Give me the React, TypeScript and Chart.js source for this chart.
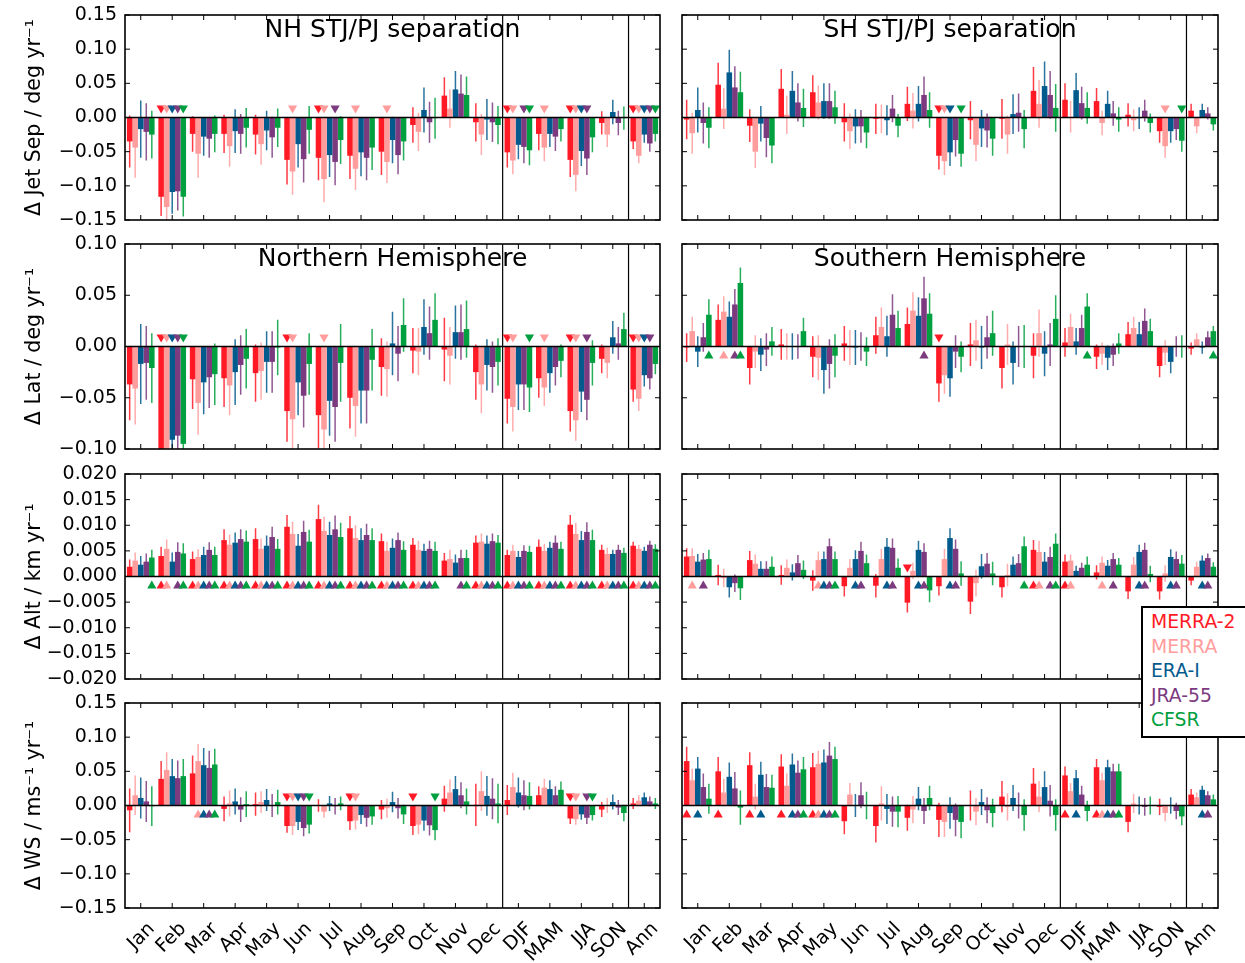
import React, { useEffect, useRef } from "react";
import { Chart, registerables } from "chart.js";

Chart.register(...registerables);

const CATEGORIES = ["Jan", "Feb", "Mar", "Apr", "May", "Jun", "Jul", "Aug", "Sep", "Oct", "Nov", "Dec", "DJF", "MAM", "JJA", "SON", "Ann"];
const SERIES = ["MERRA-2", "MERRA", "ERA-I", "JRA-55", "CFSR"];
const COLORS = ["#ff1a26", "#ff9d9d", "#035b8d", "#7c3a7f", "#00a040"];

const SEP_TICKS = [-0.15, -0.1, -0.05, 0, 0.05, 0.1, 0.15];
const LAT_TICKS = [-0.1, -0.05, 0, 0.05, 0.1];
const ALT_TICKS = [-0.02, -0.015, -0.01, -0.005, 0, 0.005, 0.01, 0.015, 0.02];
const WS_TICKS = [-0.15, -0.1, -0.05, 0, 0.05, 0.1, 0.15];

// ---------- NH STJ/PJ separation ----------
const nhSepVals = [
  [-0.035, -0.116, -0.024, -0.024, -0.025, -0.062, -0.059, -0.056, -0.050, -0.011, 0.032, -0.007, -0.051, -0.024, -0.062, -0.008, -0.035],
  [-0.044, -0.131, -0.053, -0.042, -0.039, -0.079, -0.090, -0.075, -0.065, -0.021, 0.013, -0.025, -0.063, -0.044, -0.084, -0.025, -0.056],
  [-0.017, -0.109, -0.028, -0.020, -0.019, -0.039, -0.055, -0.051, -0.033, 0.011, 0.041, -0.003, -0.040, -0.024, -0.049, 0.008, -0.025],
  [-0.021, -0.108, -0.031, -0.024, -0.029, -0.061, -0.065, -0.059, -0.055, -0.007, 0.035, -0.007, -0.043, -0.028, -0.060, -0.008, -0.038],
  [-0.025, -0.116, -0.024, -0.015, -0.015, -0.018, -0.033, -0.044, -0.035, -0.001, 0.033, -0.011, -0.048, -0.017, -0.029, -0.001, -0.024],
];
const nhSepErrs = [
  [0.038, 0.028, 0.026, 0.028, 0.029, 0.036, 0.033, 0.034, 0.034, 0.026, 0.027, 0.028, 0.022, 0.024, 0.025, 0.017, 0.011],
  [0.044, 0.030, 0.035, 0.030, 0.030, 0.034, 0.034, 0.031, 0.031, 0.028, 0.028, 0.030, 0.020, 0.020, 0.024, 0.018, 0.011],
  [0.042, 0.032, 0.028, 0.032, 0.029, 0.034, 0.032, 0.035, 0.034, 0.033, 0.027, 0.030, 0.021, 0.019, 0.022, 0.018, 0.012],
  [0.042, 0.028, 0.028, 0.029, 0.030, 0.034, 0.034, 0.033, 0.028, 0.030, 0.028, 0.029, 0.024, 0.021, 0.024, 0.018, 0.012],
  [0.035, 0.029, 0.027, 0.029, 0.028, 0.035, 0.035, 0.033, 0.028, 0.030, 0.027, 0.028, 0.022, 0.018, 0.022, 0.017, 0.011],
];
const nhSepSig = [
  [1, 6, 12, 14, 16],
  [1, 5, 6, 7, 8, 12, 13, 14, 16],
  [1, 14, 16],
  [1, 6, 12, 14, 16],
  [1, 12, 16],
];

// ---------- SH STJ/PJ separation ----------
const shSepVals = [
  [-0.003, 0.048, -0.012, 0.042, 0.037, -0.007, -0.002, 0.020, -0.056, -0.004, -0.002, 0.039, 0.026, 0.024, 0.004, -0.020, 0.010],
  [-0.023, 0.013, -0.050, 0.004, 0.022, -0.020, -0.002, 0.010, -0.064, -0.040, -0.025, 0.020, 0.001, -0.008, -0.004, -0.042, -0.013],
  [0.011, 0.066, -0.009, 0.039, 0.024, -0.013, -0.004, 0.020, -0.051, -0.016, 0.005, 0.046, 0.040, 0.020, -0.001, -0.020, 0.011],
  [-0.008, 0.044, -0.030, 0.022, 0.024, -0.013, 0.013, 0.033, -0.033, -0.019, 0.007, 0.033, 0.021, 0.006, 0.010, -0.017, 0.006],
  [-0.015, 0.037, -0.041, 0.014, 0.015, -0.022, -0.012, 0.011, -0.053, -0.031, -0.017, 0.014, 0.014, -0.003, -0.008, -0.034, -0.010],
];
const shSepErrs = [
  [0.029, 0.032, 0.024, 0.029, 0.025, 0.028, 0.022, 0.025, 0.020, 0.028, 0.029, 0.035, 0.024, 0.019, 0.017, 0.017, 0.010],
  [0.030, 0.030, 0.024, 0.028, 0.025, 0.026, 0.021, 0.026, 0.020, 0.024, 0.028, 0.035, 0.023, 0.018, 0.016, 0.017, 0.010],
  [0.033, 0.033, 0.026, 0.029, 0.026, 0.025, 0.022, 0.026, 0.020, 0.027, 0.029, 0.036, 0.025, 0.019, 0.016, 0.017, 0.009],
  [0.030, 0.031, 0.028, 0.028, 0.026, 0.024, 0.020, 0.027, 0.024, 0.025, 0.028, 0.035, 0.024, 0.018, 0.016, 0.016, 0.009],
  [0.030, 0.030, 0.026, 0.028, 0.024, 0.023, 0.017, 0.026, 0.019, 0.025, 0.028, 0.035, 0.023, 0.018, 0.014, 0.016, 0.009],
];
const shSepSig = [[8], [8, 15], [8], [], [8, 15]];

// ---------- Northern Hemisphere latitude ----------
const nhLatVals = [
  [-0.037, -0.108, -0.032, -0.031, -0.026, -0.063, -0.067, -0.050, -0.020, -0.004, -0.003, -0.025, -0.051, -0.031, -0.063, -0.012, -0.042],
  [-0.041, -0.112, -0.055, -0.038, -0.024, -0.071, -0.081, -0.058, -0.022, -0.005, -0.009, -0.037, -0.059, -0.040, -0.072, -0.016, -0.051],
  [-0.017, -0.091, -0.035, -0.025, -0.015, -0.035, -0.053, -0.043, 0.003, 0.019, 0.014, -0.018, -0.037, -0.026, -0.044, 0.009, -0.028],
  [-0.016, -0.087, -0.030, -0.018, -0.015, -0.048, -0.059, -0.043, -0.007, 0.013, 0.014, -0.020, -0.037, -0.020, -0.052, 0.003, -0.031],
  [-0.021, -0.095, -0.027, -0.012, -0.001, -0.017, -0.016, -0.013, 0.021, 0.026, 0.017, -0.015, -0.040, -0.014, -0.016, 0.017, -0.017],
];
const nhLatErrs = [
  [0.035, 0.035, 0.029, 0.028, 0.028, 0.030, 0.032, 0.030, 0.028, 0.022, 0.031, 0.027, 0.024, 0.019, 0.020, 0.014, 0.012],
  [0.035, 0.035, 0.031, 0.029, 0.028, 0.030, 0.032, 0.030, 0.027, 0.023, 0.028, 0.028, 0.024, 0.018, 0.020, 0.015, 0.012],
  [0.039, 0.035, 0.031, 0.032, 0.030, 0.032, 0.034, 0.032, 0.031, 0.027, 0.026, 0.025, 0.025, 0.019, 0.020, 0.016, 0.011],
  [0.036, 0.035, 0.030, 0.029, 0.030, 0.031, 0.034, 0.032, 0.027, 0.026, 0.027, 0.025, 0.025, 0.018, 0.020, 0.016, 0.011],
  [0.034, 0.035, 0.030, 0.029, 0.027, 0.030, 0.038, 0.030, 0.026, 0.026, 0.028, 0.023, 0.024, 0.016, 0.022, 0.016, 0.010],
];
const nhLatSig = [
  [1, 5, 12, 14, 16],
  [1, 5, 6, 12, 13, 14, 16],
  [1, 16],
  [1, 14, 16],
  [1, 12],
];

// ---------- Southern Hemisphere latitude ----------
const shLatVals = [
  [-0.001, 0.026, -0.021, 0.002, -0.010, 0.003, 0.011, 0.022, -0.036, 0.002, -0.021, -0.009, 0.004, -0.010, 0.012, -0.019, -0.002],
  [0.015, 0.034, -0.005, 0.000, -0.011, -0.001, 0.019, 0.035, -0.028, 0.006, 0.002, 0.013, 0.019, -0.007, 0.018, -0.006, 0.007],
  [-0.005, 0.029, -0.008, 0.000, -0.023, -0.001, 0.010, 0.030, -0.031, -0.001, -0.016, -0.007, 0.005, -0.011, 0.012, -0.015, -0.001],
  [0.009, 0.041, -0.003, 0.000, -0.017, 0.000, 0.031, 0.047, -0.005, 0.009, 0.000, 0.002, 0.018, -0.008, 0.025, 0.000, 0.009],
  [0.031, 0.062, 0.005, 0.015, -0.009, -0.005, 0.018, 0.032, -0.010, 0.013, 0.000, 0.027, 0.039, 0.003, 0.015, 0.000, 0.015],
];
const shLatErrs = [
  [0.014, 0.015, 0.016, 0.015, 0.020, 0.017, 0.018, 0.016, 0.018, 0.021, 0.020, 0.022, 0.014, 0.012, 0.012, 0.011, 0.006],
  [0.014, 0.015, 0.016, 0.013, 0.022, 0.017, 0.019, 0.018, 0.018, 0.020, 0.020, 0.023, 0.013, 0.011, 0.011, 0.012, 0.006],
  [0.015, 0.015, 0.016, 0.013, 0.023, 0.017, 0.020, 0.018, 0.018, 0.021, 0.021, 0.022, 0.013, 0.012, 0.012, 0.011, 0.006],
  [0.014, 0.015, 0.016, 0.012, 0.024, 0.014, 0.020, 0.021, 0.016, 0.021, 0.020, 0.021, 0.013, 0.011, 0.012, 0.010, 0.006],
  [0.015, 0.015, 0.014, 0.013, 0.021, 0.014, 0.017, 0.020, 0.015, 0.022, 0.021, 0.023, 0.013, 0.010, 0.012, 0.011, 0.005],
];
const shLatSig = [[8], [1], [], [1, 7], [0, 1, 12, 16]];

// ---------- NH altitude ----------
const nhAltVals = [
  [0.0019, 0.0040, 0.0034, 0.0071, 0.0073, 0.0097, 0.0112, 0.0094, 0.0069, 0.0062, 0.0031, 0.0066, 0.0042, 0.0058, 0.0101, 0.0052, 0.0060],
  [0.0031, 0.0054, 0.0038, 0.0062, 0.0054, 0.0083, 0.0089, 0.0075, 0.0050, 0.0052, 0.0034, 0.0068, 0.0050, 0.0050, 0.0083, 0.0044, 0.0054],
  [0.0023, 0.0029, 0.0042, 0.0066, 0.0060, 0.0060, 0.0081, 0.0071, 0.0056, 0.0050, 0.0027, 0.0064, 0.0038, 0.0056, 0.0071, 0.0044, 0.0050],
  [0.0029, 0.0048, 0.0052, 0.0073, 0.0077, 0.0087, 0.0092, 0.0081, 0.0071, 0.0054, 0.0036, 0.0069, 0.0050, 0.0066, 0.0087, 0.0052, 0.0062],
  [0.0037, 0.0045, 0.0042, 0.0068, 0.0054, 0.0068, 0.0077, 0.0071, 0.0052, 0.0050, 0.0036, 0.0066, 0.0048, 0.0054, 0.0071, 0.0046, 0.0054],
];
const nhAltErrs = [
  [0.0014, 0.0018, 0.0015, 0.0021, 0.0021, 0.0023, 0.0028, 0.0024, 0.0015, 0.0013, 0.0015, 0.0014, 0.0010, 0.0014, 0.0019, 0.0010, 0.0008],
  [0.0016, 0.0018, 0.0015, 0.0020, 0.0020, 0.0024, 0.0028, 0.0025, 0.0018, 0.0018, 0.0018, 0.0016, 0.0012, 0.0014, 0.0022, 0.0012, 0.0008],
  [0.0017, 0.0018, 0.0016, 0.0020, 0.0020, 0.0023, 0.0026, 0.0023, 0.0018, 0.0014, 0.0016, 0.0016, 0.0012, 0.0012, 0.0018, 0.0008, 0.0008],
  [0.0016, 0.0019, 0.0015, 0.0019, 0.0020, 0.0022, 0.0027, 0.0022, 0.0015, 0.0016, 0.0016, 0.0015, 0.0011, 0.0014, 0.0019, 0.0010, 0.0008],
  [0.0015, 0.0020, 0.0016, 0.0022, 0.0019, 0.0023, 0.0028, 0.0023, 0.0017, 0.0018, 0.0016, 0.0015, 0.0012, 0.0014, 0.0020, 0.0010, 0.0009],
];
const nhAltSig = [
  [1, 2, 3, 4, 5, 6, 7, 8, 9, 11, 12, 13, 14, 15, 16],
  [1, 2, 3, 4, 5, 6, 7, 8, 9, 11, 12, 13, 14, 15, 16],
  [2, 3, 4, 5, 6, 7, 8, 9, 11, 12, 13, 14, 15, 16],
  [1, 2, 3, 4, 5, 6, 7, 8, 9, 10, 11, 12, 13, 14, 15, 16],
  [0, 1, 2, 3, 4, 5, 6, 7, 8, 9, 10, 11, 12, 13, 14, 15, 16],
];

// ---------- SH altitude ----------
const shAltVals = [
  [0.0039, 0.0003, 0.0032, 0.0003, -0.0008, -0.0019, -0.0018, -0.0051, -0.0019, -0.0049, -0.0021, 0.0052, 0.0029, 0.0008, -0.0029, -0.0029, -0.0008],
  [0.0040, -0.0003, 0.0025, 0.0017, 0.0032, 0.0017, 0.0034, 0.0011, 0.0034, -0.0013, 0.0003, 0.0048, 0.0031, 0.0027, 0.0023, 0.0006, 0.0019],
  [0.0029, -0.0021, 0.0015, 0.0008, 0.0034, 0.0034, 0.0058, 0.0052, 0.0075, 0.0020, 0.0023, 0.0029, 0.0011, 0.0021, 0.0048, 0.0038, 0.0031],
  [0.0033, -0.0013, 0.0015, 0.0026, 0.0059, 0.0050, 0.0056, 0.0048, 0.0054, 0.0025, 0.0026, 0.0038, 0.0017, 0.0034, 0.0052, 0.0034, 0.0036],
  [0.0034, -0.0023, 0.0019, 0.0013, 0.0034, 0.0026, 0.0017, -0.0027, 0.0006, 0.0006, 0.0059, 0.0064, 0.0023, 0.0023, 0.0005, 0.0025, 0.0019],
];
const shAltErrs = [
  [0.0016, 0.0020, 0.0018, 0.0019, 0.0020, 0.0020, 0.0023, 0.0019, 0.0018, 0.0024, 0.0020, 0.0019, 0.0014, 0.0014, 0.0015, 0.0016, 0.0009],
  [0.0015, 0.0018, 0.0018, 0.0016, 0.0017, 0.0017, 0.0020, 0.0016, 0.0020, 0.0026, 0.0022, 0.0022, 0.0012, 0.0012, 0.0015, 0.0016, 0.0010],
  [0.0015, 0.0020, 0.0015, 0.0016, 0.0015, 0.0017, 0.0017, 0.0018, 0.0019, 0.0024, 0.0016, 0.0019, 0.0010, 0.0011, 0.0014, 0.0015, 0.0010],
  [0.0013, 0.0017, 0.0015, 0.0016, 0.0015, 0.0018, 0.0018, 0.0017, 0.0018, 0.0021, 0.0018, 0.0020, 0.0010, 0.0012, 0.0014, 0.0015, 0.0009],
  [0.0018, 0.0023, 0.0020, 0.0018, 0.0015, 0.0017, 0.0018, 0.0023, 0.0024, 0.0023, 0.0019, 0.0020, 0.0016, 0.0013, 0.0016, 0.0017, 0.0009],
];
const shAltSig = [
  [7, 11, 12],
  [0, 4, 11, 12, 13],
  [4, 5, 6, 7, 8, 14, 15, 16],
  [0, 4, 5, 6, 7, 8, 11, 13, 14, 15, 16],
  [4, 10, 11],
];

// ---------- NH wind speed ----------
const nhWsVals = [
  [-0.007, 0.039, 0.047, -0.005, 0.002, -0.030, 0.000, -0.023, -0.006, -0.030, 0.010, 0.001, 0.008, 0.015, -0.019, -0.006, 0.003],
  [0.015, 0.052, 0.065, 0.003, 0.005, -0.030, -0.009, -0.022, -0.004, -0.028, 0.019, 0.021, 0.027, 0.026, -0.020, 0.000, 0.007],
  [0.011, 0.043, 0.059, 0.006, 0.008, -0.024, 0.003, -0.014, 0.005, -0.022, 0.024, 0.014, 0.019, 0.024, -0.013, 0.005, 0.012],
  [0.006, 0.040, 0.055, -0.006, 0.000, -0.033, -0.001, -0.018, -0.004, -0.029, 0.015, 0.010, 0.015, 0.015, -0.018, -0.003, 0.006],
  [-0.001, 0.043, 0.060, 0.002, 0.005, -0.028, 0.003, -0.016, -0.013, -0.036, 0.006, 0.003, 0.014, 0.023, -0.014, -0.011, 0.003],
];
const nhWsErrs = [
  [0.032, 0.026, 0.026, 0.018, 0.017, 0.010, 0.009, 0.013, 0.014, 0.013, 0.019, 0.031, 0.022, 0.013, 0.008, 0.011, 0.008],
  [0.029, 0.026, 0.025, 0.019, 0.016, 0.013, 0.009, 0.013, 0.014, 0.014, 0.019, 0.029, 0.021, 0.013, 0.008, 0.011, 0.008],
  [0.030, 0.025, 0.025, 0.019, 0.016, 0.012, 0.011, 0.013, 0.015, 0.015, 0.019, 0.029, 0.022, 0.013, 0.008, 0.011, 0.007],
  [0.030, 0.026, 0.025, 0.018, 0.017, 0.012, 0.012, 0.013, 0.015, 0.015, 0.019, 0.030, 0.022, 0.013, 0.009, 0.011, 0.007],
  [0.029, 0.025, 0.023, 0.019, 0.018, 0.013, 0.010, 0.012, 0.014, 0.015, 0.019, 0.029, 0.020, 0.012, 0.008, 0.012, 0.008],
];
const nhWsSig = [[5, 7, 9, 14], [2, 5, 7, 14], [2, 5], [2, 5, 14], [2, 5, 9, 14]];

// ---------- SH wind speed ----------
const shWsVals = [
  [0.065, 0.050, 0.059, 0.057, 0.056, -0.023, -0.030, -0.018, -0.021, 0.000, 0.013, 0.032, 0.044, 0.056, -0.024, -0.002, 0.016],
  [0.037, 0.019, 0.013, 0.029, 0.061, 0.016, 0.003, -0.006, -0.024, -0.009, -0.002, 0.013, 0.021, 0.037, 0.003, -0.011, 0.012],
  [0.054, 0.042, 0.045, 0.060, 0.063, 0.000, -0.005, 0.010, -0.011, 0.005, 0.011, 0.027, 0.040, 0.056, 0.000, 0.000, 0.023],
  [0.027, 0.025, 0.027, 0.048, 0.073, 0.015, -0.009, -0.008, -0.021, -0.007, 0.000, 0.007, 0.016, 0.050, -0.002, -0.008, 0.015],
  [0.010, -0.003, 0.026, 0.053, 0.068, 0.000, -0.009, 0.011, -0.024, -0.011, -0.014, -0.014, -0.008, 0.050, 0.000, -0.016, 0.009],
];
const shWsErrs = [
  [0.021, 0.021, 0.019, 0.018, 0.021, 0.019, 0.024, 0.019, 0.025, 0.022, 0.023, 0.023, 0.013, 0.012, 0.015, 0.012, 0.008],
  [0.017, 0.020, 0.019, 0.018, 0.019, 0.017, 0.025, 0.020, 0.022, 0.020, 0.020, 0.023, 0.012, 0.011, 0.014, 0.012, 0.007],
  [0.017, 0.021, 0.019, 0.016, 0.019, 0.017, 0.022, 0.017, 0.023, 0.019, 0.019, 0.023, 0.012, 0.011, 0.013, 0.012, 0.006],
  [0.020, 0.024, 0.019, 0.018, 0.020, 0.019, 0.022, 0.019, 0.024, 0.019, 0.019, 0.023, 0.013, 0.011, 0.013, 0.012, 0.006],
  [0.022, 0.025, 0.019, 0.018, 0.018, 0.020, 0.023, 0.018, 0.024, 0.021, 0.023, 0.023, 0.015, 0.011, 0.013, 0.013, 0.007],
];
const shWsSig = [[0, 1, 2, 3, 4, 12, 13], [4, 13], [0, 2, 3, 4, 12, 13, 16], [3, 4, 13, 16], [3, 4, 13]];

const FONT = "'DejaVu Sans', 'Liberation Sans', sans-serif";
const ROW_TOPS = [15, 244, 474, 703];
const PLOT_H = 205;
const COL_LEFTS = [125, 682];
const PLOT_W = [535, 536];

type PanelDef = {
  vals: number[][];
  errs: number[][];
  sigs: number[][];
  ticks: number[];
  dec: number;
  title?: string;
  yTitle?: string;
  row: number;
  col: number;
};

const PANELS: PanelDef[] = [
  { vals: nhSepVals, errs: nhSepErrs, sigs: nhSepSig, ticks: SEP_TICKS, dec: 2, title: "NH STJ/PJ separation", yTitle: "\u0394 Jet Sep / deg yr\u207B\u00B9", row: 0, col: 0 },
  { vals: shSepVals, errs: shSepErrs, sigs: shSepSig, ticks: SEP_TICKS, dec: 2, title: "SH STJ/PJ separation", row: 0, col: 1 },
  { vals: nhLatVals, errs: nhLatErrs, sigs: nhLatSig, ticks: LAT_TICKS, dec: 2, title: "Northern Hemisphere", yTitle: "\u0394 Lat / deg yr\u207B\u00B9", row: 1, col: 0 },
  { vals: shLatVals, errs: shLatErrs, sigs: shLatSig, ticks: LAT_TICKS, dec: 2, title: "Southern Hemisphere", row: 1, col: 1 },
  { vals: nhAltVals, errs: nhAltErrs, sigs: nhAltSig, ticks: ALT_TICKS, dec: 3, yTitle: "\u0394 Alt / km yr\u207B\u00B9", row: 2, col: 0 },
  { vals: shAltVals, errs: shAltErrs, sigs: shAltSig, ticks: ALT_TICKS, dec: 3, row: 2, col: 1 },
  { vals: nhWsVals, errs: nhWsErrs, sigs: nhWsSig, ticks: WS_TICKS, dec: 2, yTitle: "\u0394 WS / ms\u207B\u00B9 yr\u207B\u00B9", row: 3, col: 0 },
  { vals: shWsVals, errs: shWsErrs, sigs: shWsSig, ticks: WS_TICKS, dec: 2, row: 3, col: 1 },
];

function fmt(v: number, dec: number): string {
  const s = Math.abs(v).toFixed(dec);
  return v < -1e-12 ? "\u2212" + s : s;
}

function Panel({ p }: { p: PanelDef }) {
  const ref = useRef<HTMLCanvasElement>(null);
  const isLeft = p.col === 0;
  const isBottom = p.row === 3;
  const cLeft = isLeft ? 0 : 670;
  const cWidth = isLeft ? 672 : 575;
  const plotLeft = COL_LEFTS[p.col];
  const plotRight = plotLeft + PLOT_W[p.col];
  const cTop = ROW_TOPS[p.row] - 12;
  const cHeight = isBottom ? 963 - cTop : PLOT_H + 24;

  useEffect(() => {
    if (!ref.current) return;
    const deco = {
      id: "deco",
      afterDatasetsDraw(chart: any) {
        const { ctx, chartArea: a } = chart;
        const xs = chart.scales.x;
        const ys = chart.scales.y;
        const y0 = ys.getPixelForValue(0);
        ctx.save();
        ctx.beginPath();
        ctx.rect(a.left, a.top, a.right - a.left, a.bottom - a.top);
        ctx.clip();
        // error bars
        ctx.lineWidth = 1.5;
        ctx.globalAlpha = 0.85;
        for (let s = 0; s < SERIES.length; s++) {
          const meta = chart.getDatasetMeta(s);
          ctx.strokeStyle = COLORS[s];
          ctx.beginPath();
          meta.data.forEach((bar: any, j: number) => {
            const v = p.vals[s][j];
            const e = p.errs[s][j];
            ctx.moveTo(bar.x, ys.getPixelForValue(v + e));
            ctx.lineTo(bar.x, ys.getPixelForValue(v - e));
          });
          ctx.stroke();
        }
        ctx.globalAlpha = 1;
        // zero line
        ctx.strokeStyle = "#000";
        ctx.lineWidth = 1.3;
        ctx.beginPath();
        ctx.moveTo(a.left, y0);
        ctx.lineTo(a.right, y0);
        ctx.stroke();
        // separators
        ctx.lineWidth = 1.2;
        [11, 15].forEach((i) => {
          const x = (xs.getPixelForValue(i) + xs.getPixelForValue(i + 1)) / 2;
          ctx.beginPath();
          ctx.moveTo(x, a.top);
          ctx.lineTo(x, a.bottom);
          ctx.stroke();
        });
        // significance markers
        for (let s = 0; s < SERIES.length; s++) {
          const meta = chart.getDatasetMeta(s);
          ctx.fillStyle = COLORS[s];
          p.sigs[s].forEach((j) => {
            const bar = meta.data[j];
            const v = p.vals[s][j];
            const bx = bar.x;
            ctx.beginPath();
            if (v < 0) {
              const cy = y0 - 8;
              ctx.moveTo(bx - 4.6, cy - 4);
              ctx.lineTo(bx + 4.6, cy - 4);
              ctx.lineTo(bx, cy + 4);
            } else {
              const cy = y0 + 8;
              ctx.moveTo(bx - 4.6, cy + 4);
              ctx.lineTo(bx + 4.6, cy + 4);
              ctx.lineTo(bx, cy - 4);
            }
            ctx.closePath();
            ctx.fill();
          });
        }
        ctx.restore();

        // frame and inward ticks
        ctx.save();
        ctx.strokeStyle = "#000";
        ctx.lineWidth = 1;
        ctx.beginPath();
        for (let j = 0; j < CATEGORIES.length; j++) {
          const x = xs.getPixelForValue(j);
          ctx.moveTo(x, a.bottom);
          ctx.lineTo(x, a.bottom - 5);
          ctx.moveTo(x, a.top);
          ctx.lineTo(x, a.top + 5);
        }
        p.ticks.forEach((t) => {
          const y = ys.getPixelForValue(t);
          ctx.moveTo(a.left, y);
          ctx.lineTo(a.left + 5, y);
          ctx.moveTo(a.right, y);
          ctx.lineTo(a.right - 5, y);
        });
        ctx.stroke();
        ctx.lineWidth = 1.6;
        ctx.strokeRect(a.left, a.top, a.right - a.left, a.bottom - a.top);
        if (p.title) {
          ctx.fillStyle = "#000";
          ctx.font = `25px ${FONT}`;
          ctx.textAlign = "center";
          ctx.textBaseline = "alphabetic";
          ctx.fillText(p.title, (a.left + a.right) / 2, a.top + 22);
        }
        ctx.restore();
      },
    };

    const chart = new Chart(ref.current, {
      type: "bar",
      data: {
        labels: CATEGORIES,
        datasets: SERIES.map((name, i) => ({
          label: name,
          data: p.vals[i],
          backgroundColor: COLORS[i],
          borderWidth: 0,
          barPercentage: 1,
          categoryPercentage: 0.88,
        })),
      },
      options: {
        animation: false,
        responsive: false,
        maintainAspectRatio: false,
        devicePixelRatio: 1,
        layout: {
          padding: { top: 12, left: 0, right: cLeft + cWidth - plotRight, bottom: isBottom ? 0 : 12 },
        },
        plugins: {
          legend: { display: false },
          tooltip: { enabled: false },
          title: { display: false },
        },
        scales: {
          x: {
            display: isBottom,
            grid: { display: false, drawTicks: false },
            border: { display: false },
            ticks: {
              autoSkip: false,
              minRotation: 45,
              maxRotation: 45,
              color: "#000",
              font: { family: FONT, size: 19 },
              padding: 10,
              labelOffset: 11,
            },
            afterFit: (s: any) => {
              s.height = isBottom ? cHeight - 12 - PLOT_H : 0;
              s.paddingLeft = 0;
              s.paddingRight = 0;
              s.paddingTop = 0;
              s.paddingBottom = 0;
            },
          },
          y: {
            display: true,
            min: p.ticks[0],
            max: p.ticks[p.ticks.length - 1],
            grid: { display: false, drawTicks: false },
            border: { display: false },
            afterBuildTicks: (s: any) => {
              s.ticks = p.ticks.map((v) => ({ value: v }));
            },
            ticks: {
              display: isLeft,
              autoSkip: false,
              color: "#000",
              font: { family: FONT, size: 19 },
              padding: 8,
              callback: (v: any) => fmt(Number(v), p.dec),
            },
            title: {
              display: isLeft && !!p.yTitle,
              text: p.yTitle || "",
              color: "#000",
              font: { family: FONT, size: 20.5 },
              padding: { top: 22, bottom: 0 },
            },
            afterFit: (s: any) => {
              s.width = plotLeft - cLeft;
              s.paddingTop = 0;
              s.paddingBottom = 0;
              s.paddingLeft = 0;
              s.paddingRight = 0;
            },
          },
        },
      },
      plugins: [deco],
    } as any);
    return () => chart.destroy();
  }, []);

  return (
    <canvas
      ref={ref}
      width={cWidth}
      height={cHeight}
      style={{ position: "absolute", left: cLeft, top: cTop, width: cWidth, height: cHeight }}
    />
  );
}

export default function App() {
  return (
    <div
      style={{
        position: "absolute",
        left: 0,
        top: 0,
        width: 1245,
        height: 963,
        overflow: "hidden",
        background: "#fff",
      }}
    >
      {PANELS.map((p, i) => (
        <Panel key={i} p={p} />
      ))}
      <div
        style={{
          position: "absolute",
          left: 1141,
          top: 606,
          width: 130,
          height: 132,
          boxSizing: "border-box",
          border: "2px solid #000",
          background: "#fff",
          paddingLeft: 8,
          paddingTop: 2,
          zIndex: 5,
          fontFamily: FONT,
          fontSize: 18.8,
          lineHeight: "24.6px",
        }}
      >
        {SERIES.map((s, i) => (
          <div key={s} style={{ color: COLORS[i], whiteSpace: "nowrap" }}>
            {s}
          </div>
        ))}
      </div>
    </div>
  );
}
